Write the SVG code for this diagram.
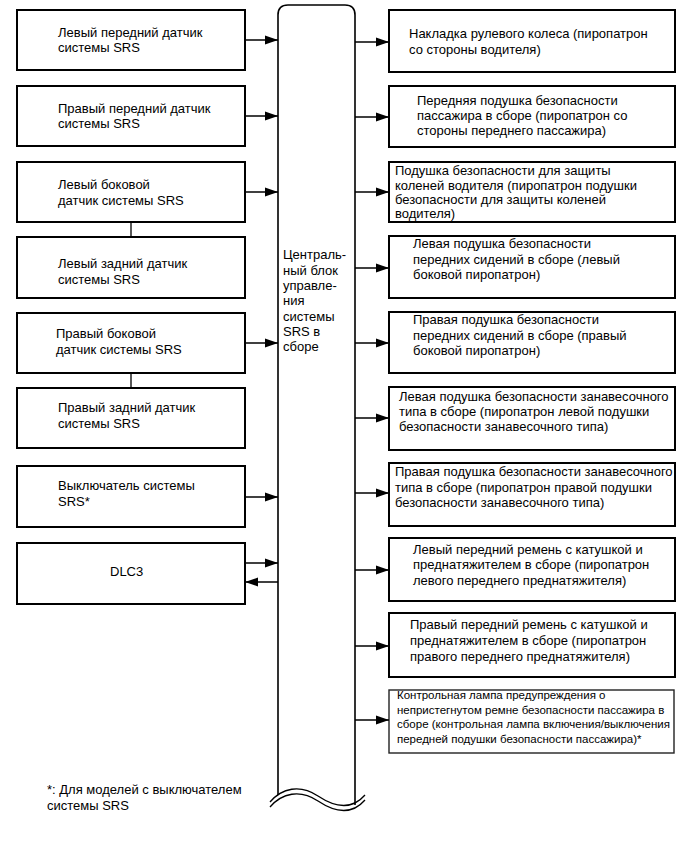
<svg xmlns="http://www.w3.org/2000/svg" width="690" height="854" viewBox="0 0 690 854">
<style>
text{font-family:"Liberation Sans",Arial,sans-serif;font-size:13px;fill:#000}
.box{fill:#fff;stroke:#000;stroke-width:2}
.thin{fill:#fff;stroke:#222;stroke-width:1.4}
.ln{fill:none;stroke:#000;stroke-width:1.3}
.cb{fill:none;stroke:#000;stroke-width:1.6}
.sm{font-size:11.5px}
</style>
<defs>
<marker id="ah" markerUnits="userSpaceOnUse" markerWidth="13" markerHeight="10" refX="13" refY="5" orient="auto">
<path d="M0,0.5 L13,5 L0,9.5 z" fill="#000"/>
</marker>
</defs>
<rect width="690" height="854" fill="#fff"/>

<g id="ecu">
<path class="cb" d="M278,795 L278,15 Q278,5 288,5 L345,5 Q355,5 355,15 L355,805"/>
<path class="ln" d="M270,802 C282,788 300,784 318,796 C336,808 352,810 365,795"/>
<path class="ln" d="M270,807 C282,793 300,789 318,801 C336,813 352,815 365,800"/>
<text x="283" y="259">Централь-</text>
<text x="283" y="274.5">ный блок</text>
<text x="283" y="290">управле-</text>
<text x="283" y="305">ния</text>
<text x="283" y="320.5">системы</text>
<text x="283" y="336">SRS в</text>
<text x="283" y="351">сборе</text>
</g>

<g id="l1"><rect class="box" x="17" y="10" width="228" height="60"/><text x="58" y="37">Левый передний датчик</text><text x="58" y="52">системы SRS</text></g>
<g id="l2"><rect class="box" x="17" y="86" width="228" height="60"/><text x="58" y="113">Правый передний датчик</text><text x="58" y="128">системы SRS</text></g>
<g id="l3"><rect class="box" x="17" y="162" width="228" height="60"/><text x="58" y="189">Левый боковой</text><text x="58" y="205">датчик системы SRS</text></g>
<g id="l4"><rect class="box" x="17" y="237" width="228" height="61"/><text x="58" y="268">Левый задний датчик</text><text x="58" y="284">системы SRS</text></g>
<g id="l5"><rect class="box" x="17" y="313" width="228" height="60"/><text x="56" y="338">Правый боковой</text><text x="56" y="354">датчик системы SRS</text></g>
<g id="l6"><rect class="box" x="17" y="388" width="228" height="60"/><text x="58" y="412">Правый задний датчик</text><text x="58" y="428">системы SRS</text></g>
<g id="l7"><rect class="box" x="17" y="466" width="228" height="61"/><text x="58" y="490">Выключатель системы</text><text x="58" y="506">SRS*</text></g>
<g id="l8"><rect class="box" x="17" y="543" width="228" height="61"/><text x="110" y="576">DLC3</text></g>

<g id="r1"><rect class="box" x="389" y="10" width="286" height="62"/><text x="409" y="38">Накладка рулевого колеса (пиропатрон</text><text x="409" y="54">со стороны водителя)</text></g>
<g id="r2"><rect class="box" x="389" y="86" width="286" height="61"/><text x="417" y="105">Передняя подушка безопасности</text><text x="417" y="120">пассажира в сборе (пиропатрон со</text><text x="417" y="135">стороны переднего пассажира)</text></g>
<g id="r3"><rect class="box" x="389" y="162" width="286" height="60"/><text x="395" y="175">Подушка безопасности для защиты</text><text x="395" y="189.5">коленей водителя (пиропатрон подушки</text><text x="395" y="204">безопасности для защиты коленей</text><text x="395" y="218">водителя)</text></g>
<g id="r4"><rect class="box" x="389" y="236" width="286" height="62"/><text x="413" y="248">Левая подушка безопасности</text><text x="413" y="264">передних сидений в сборе (левый</text><text x="413" y="279">боковой пиропатрон)</text></g>
<g id="r5"><rect class="box" x="389" y="312" width="286" height="61"/><text x="413" y="324">Правая подушка безопасности</text><text x="413" y="340">передних сидений в сборе (правый</text><text x="413" y="355">боковой пиропатрон)</text></g>
<g id="r6"><rect class="box" x="389" y="387" width="286" height="63"/><text x="399" y="401">Левая подушка безопасности занавесочного</text><text x="399" y="416">типа в сборе (пиропатрон левой подушки</text><text x="399" y="431">безопасности занавесочного типа)</text></g>
<g id="r7"><rect class="box" x="389" y="463" width="286" height="63"/><text x="395" y="476">Правая подушка безопасности занавесочного</text><text x="395" y="492">типа в сборе (пиропатрон правой подушки</text><text x="395" y="507">безопасности занавесочного типа)</text></g>
<g id="r8"><rect class="box" x="389" y="538" width="286" height="63"/><text x="413" y="554">Левый передний ремень с катушкой и</text><text x="413" y="569">преднатяжителем в сборе (пиропатрон</text><text x="413" y="585">левого переднего преднатяжителя)</text></g>
<g id="r9"><rect class="box" x="389" y="613" width="286" height="64"/><text x="410" y="629">Правый передний ремень с катушкой и</text><text x="410" y="645">преднатяжителем в сборе (пиропатрон</text><text x="410" y="661">правого переднего преднатяжителя)</text></g>
<g id="r10"><rect class="thin" x="389" y="690" width="285" height="63"/><text class="sm" x="397" y="699">Контрольная лампа предупреждения о</text><text class="sm" x="397" y="713.5">непристегнутом ремне безопасности пассажира в</text><text class="sm" x="397" y="728">сборе (контрольная лампа включения/выключения</text><text class="sm" x="397" y="742.5">передней подушки безопасности пассажира)*</text></g>

<g id="note"><text x="47" y="794">*: Для моделей с выключателем</text><text x="47" y="810">системы SRS</text></g>

<g id="connectors">
<path class="ln" d="M131,222 V237 M131,373 V388"/>
<path class="ln" marker-end="url(#ah)" d="M245,40 H278"/>
<path class="ln" marker-end="url(#ah)" d="M245,116 H278"/>
<path class="ln" marker-end="url(#ah)" d="M245,192 H278"/>
<path class="ln" marker-end="url(#ah)" d="M245,343 H278"/>
<path class="ln" marker-end="url(#ah)" d="M245,497 H278"/>
<path class="ln" marker-end="url(#ah)" d="M245,563 H278"/>
<path class="ln" marker-end="url(#ah)" d="M278,582 H245"/>
<path class="ln" marker-end="url(#ah)" d="M355,42 H389"/>
<path class="ln" marker-end="url(#ah)" d="M355,117 H389"/>
<path class="ln" marker-end="url(#ah)" d="M355,192 H389"/>
<path class="ln" marker-end="url(#ah)" d="M355,268 H389"/>
<path class="ln" marker-end="url(#ah)" d="M355,343 H389"/>
<path class="ln" marker-end="url(#ah)" d="M355,418 H389"/>
<path class="ln" marker-end="url(#ah)" d="M355,493 H389"/>
<path class="ln" marker-end="url(#ah)" d="M355,570 H389"/>
<path class="ln" marker-end="url(#ah)" d="M355,646 H389"/>
<path class="ln" marker-end="url(#ah)" d="M355,720 H389"/>
</g>
</svg>
